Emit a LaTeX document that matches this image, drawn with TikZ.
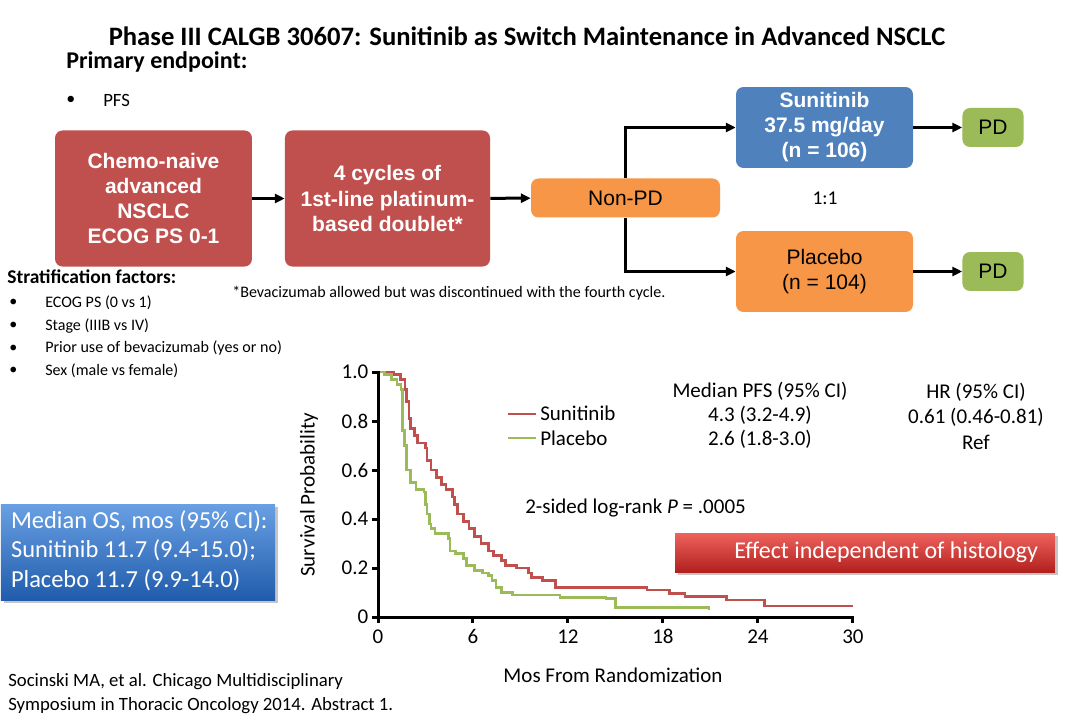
\documentclass[tikz,border=0pt]{standalone}
\usepackage{fontspec}
\setmainfont{Carlito}
\newfontfamily\arialfont{Liberation Sans}
\usetikzlibrary{arrows.meta,positioning,shadows}

\definecolor{boxred}{RGB}{192,80,77}
\definecolor{boxblue}{RGB}{79,129,189}
\definecolor{boxorange}{RGB}{247,150,70}
\definecolor{boxgreen}{RGB}{155,187,89}
\definecolor{ostop}{RGB}{105,160,228}
\definecolor{osbottom}{RGB}{32,92,172}
\definecolor{fxtop}{RGB}{238,98,92}
\definecolor{fxbottom}{RGB}{178,32,30}

\begin{document}
\begin{tikzpicture}[x=0.6667pt, y=-0.6667pt,
    armbox/.style={rounded corners=5pt, inner sep=0pt, align=center, font=\arialfont\fontsize{14}{16.7}\selectfont},
    redbox/.style={armbox, fill=boxred, text=white, font=\arialfont\bfseries\fontsize{14}{16.7}\selectfont, minimum height=90.7pt},
    armlabel/.style={armbox, minimum width=118pt, minimum height=54pt},
    pdbox/.style={armbox, fill=boxgreen, minimum width=40.7pt, minimum height=26pt},
    arrow/.style={-{Triangle[length=6.5pt, width=6pt]}, line width=2pt, black},
    heading/.style={font=\bfseries\fontsize{16}{19}\selectfont},
    smalltext/.style={font=\fontsize{10.7}{12.8}\selectfont, inner sep=0pt},
    citetext/.style={font=\fontsize{12.5}{15}\selectfont, inner sep=0pt, anchor=base west},
    plottext/.style={font=\fontsize{14}{17}\selectfont, inner sep=0pt},
    shadebox/.style={drop shadow={shadow xshift=2pt, shadow yshift=-2pt, opacity=0.45}, text=white, inner sep=0pt}
]
\fill[white] (0,0) rectangle (1080,720);
\useasboundingbox (0,0) rectangle (1080,720);

% === Title and primary endpoint ===
\node[font=\bfseries\fontsize{17.75}{21}\selectfont, anchor=base, inner sep=0pt, text depth=0pt] (title) at (527,46) {Phase III CALGB 30607: Sunitinib as Switch Maintenance in Advanced NSCLC};
\node[heading, anchor=base west, inner sep=0pt] (primary) at (66,69) {Primary endpoint:};
\node[font=\fontsize{12}{14}\selectfont, anchor=west, inner sep=0pt] (pfsdot) at (66,100) {\textbullet};
\node[font=\fontsize{12.5}{14}\selectfont, anchor=west, inner sep=0pt] (pfs) at (103,100) {PFS};

% === Study schema ===
\node[redbox, minimum width=131.3pt] (chemo) at (153.5,198.5) {Chemo-naive\\advanced\\NSCLC\\ECOG PS 0-1};
\node[redbox, minimum width=136.7pt] (platin) at (387.5,198.5) {4 cycles of\\1st-line platinum-\\based doublet*};
\node[armbox, fill=boxorange, minimum width=126pt, minimum height=26pt] (nonpd) at (625.5,198) {Non-PD};
\node[armlabel, fill=boxblue, text=white, font=\arialfont\bfseries\fontsize{14}{16.7}\selectfont] (suni) at (824.5,127.5) {Sunitinib\\37.5 mg/day\\(n = 106)};
\node[armlabel, fill=boxorange] (placebo) at (824.5,271.5) {Placebo\\(n = 104)};
\node[pdbox] (pdsuni) at (993,127.5) {PD};
\node[pdbox] (pdplac) at (993,271.5) {PD};
\node[font=\fontsize{13}{15}\selectfont, inner sep=0pt] (ratio) at (825,198) {1:1};

\draw[arrow] (chemo) -- (platin);
\draw[arrow] (platin) -- (nonpd);
\draw[arrow] (nonpd.north) |- (suni.west);
\draw[arrow] (nonpd.south) |- (placebo.west);
\draw[arrow] (suni) -- (pdsuni);
\draw[arrow] (placebo) -- (pdplac);

% === Stratification factors ===
\node[font=\bfseries\fontsize{13}{15}\selectfont, anchor=west, inner sep=0pt] (strat) at (7,277) {Stratification factors:};
\foreach \txt [count=\i] in {{ECOG PS (0 vs 1)}, {Stage (IIIB vs IV)}, {Prior use of bevacizumab (yes or no)}, {Sex (male vs female)}} {
    \node[smalltext, anchor=west] (stratdot\i) at (9,{280.3+22.7*\i}) {\textbullet};
    \node[smalltext, anchor=west] (stratitem\i) at (45,{280.3+22.7*\i}) {\txt};
}
\node[smalltext, anchor=west] (footnote) at (232,293) {*Bevacizumab allowed but was discontinued with the fourth cycle.};

% === Kaplan-Meier plot ===
\coordinate (origin) at (378,617);
\begin{scope}[shift={(origin)}, x=10.555pt, y=163.33pt]
    % curves
    \draw[boxred, line width=1.8pt, line join=miter] plot[const plot] coordinates {
        (0,1) (1.0,0.99) (1.4,0.97) (1.7,0.93) (1.8,0.88) (1.95,0.81) (2.05,0.77) (2.3,0.74)
        (2.5,0.71) (3.0,0.69) (3.1,0.64) (3.35,0.60) (3.7,0.57) (4.0,0.54) (4.3,0.52) (4.7,0.49)
        (4.85,0.46) (5.0,0.42) (5.4,0.39) (5.75,0.36) (6.1,0.33) (6.5,0.30) (7.0,0.27)
        (7.3,0.25) (7.8,0.23) (8.05,0.21) (8.75,0.20) (9.5,0.18) (9.7,0.16) (10.4,0.15)
        (11.2,0.12) (17.0,0.11) (18.4,0.095) (19.4,0.085) (22.0,0.07) (24.4,0.045) (30,0.045)};
    \draw[boxgreen, line width=1.8pt, line join=miter] plot[const plot] coordinates {
        (0,1) (0.4,0.99) (0.85,0.97) (1.2,0.95) (1.45,0.93) (1.55,0.76) (1.68,0.70) (1.8,0.60)
        (2.05,0.55) (2.4,0.52) (2.9,0.51) (3.0,0.46) (3.1,0.42) (3.25,0.38) (3.35,0.36)
        (3.6,0.34) (4.45,0.32) (4.55,0.27) (4.9,0.26) (5.4,0.24) (5.6,0.21) (6.1,0.19)
        (6.6,0.18) (7.0,0.17) (7.2,0.15) (7.45,0.12) (7.8,0.10) (8.5,0.09) (11.5,0.08)
        (14.4,0.075) (15.0,0.04) (20.9,0.04) (20.9,0.03)};
    % axes
    \draw[line width=2pt, line cap=rect] (0,1) -- (0,0) -- (30,0);
    \foreach \v/\t [count=\i] in {0/0, 0.2/0.2, 0.4/0.4, 0.6/0.6, 0.8/0.8, 1/1.0} {
        \draw[line width=2pt] (0,\v) -- ++(-4pt,0);
        \node[plottext, anchor=east] (ytick\i) at (-0.6,\v) {\t};
    }
    \foreach \m in {0,6,...,30} {
        \draw[line width=2pt] (\m,0) -- ++(0,-4pt);
        \node[plottext, anchor=north] (xtick\m) at (\m,-0.05) {\m};
    }
\end{scope}
\node[plottext, rotate=90] (ylabel) at (309,495) {Survival Probability};
\node[plottext] (xlabel) at (613,675) {Mos From Randomization};

% legend and statistics
\draw[boxred, line width=1.8pt] (508,414) -- (536,414);
\draw[boxgreen, line width=1.8pt] (508,438) -- (536,438);
\node[plottext, anchor=west] (legsuni) at (540,413) {Sunitinib};
\node[plottext, anchor=west] (legplac) at (540,438) {Placebo};
\node[plottext] (pfshead) at (760,391) {Median PFS (95\% CI)};
\node[plottext] (pfssuni) at (760,415) {4.3 (3.2-4.9)};
\node[plottext] (pfsplac) at (760,439) {2.6 (1.8-3.0)};
\node[plottext] (hrhead) at (976,392) {HR (95\% CI)};
\node[plottext] (hrsuni) at (976,417) {0.61 (0.46-0.81)};
\node[plottext] (hrplac) at (976,442) {Ref};
\node[plottext, anchor=west] (logrank) at (525,508) {2-sided log-rank \textit{P} = .0005};

% === Highlight boxes ===
\node[shadebox, top color=fxtop, bottom color=fxbottom, minimum width=253.3pt, minimum height=26pt] (effect) at (865,552.5) {};
\node[font=\fontsize{16}{19}\selectfont, text=white, inner sep=0pt, anchor=east] (effecttext) at ([xshift=-11.3pt]effect.east) {Effect independent of histology};
\node[shadebox, top color=ostop, bottom color=osbottom, minimum width=182.7pt, minimum height=64pt] (os) at (138,552) {};
\node[text=white, font=\fontsize{16.3}{19.7}\selectfont, inner sep=0pt, anchor=west] (ostext) at ([xshift=6.7pt]os.west)
    {\begin{tabular}{@{}l@{}}Median OS, mos (95\% CI):\\Sunitinib 11.7 (9.4-15.0);\\Placebo 11.7 (9.9-14.0)\end{tabular}};

% === Reference ===
\node[citetext] (cite1) at (8,686) {Socinski MA, et al. Chicago Multidisciplinary};
\node[citetext] (cite2) at (8,710) {Symposium in Thoracic Oncology 2014. Abstract 1.};

\end{tikzpicture}
\end{document}
